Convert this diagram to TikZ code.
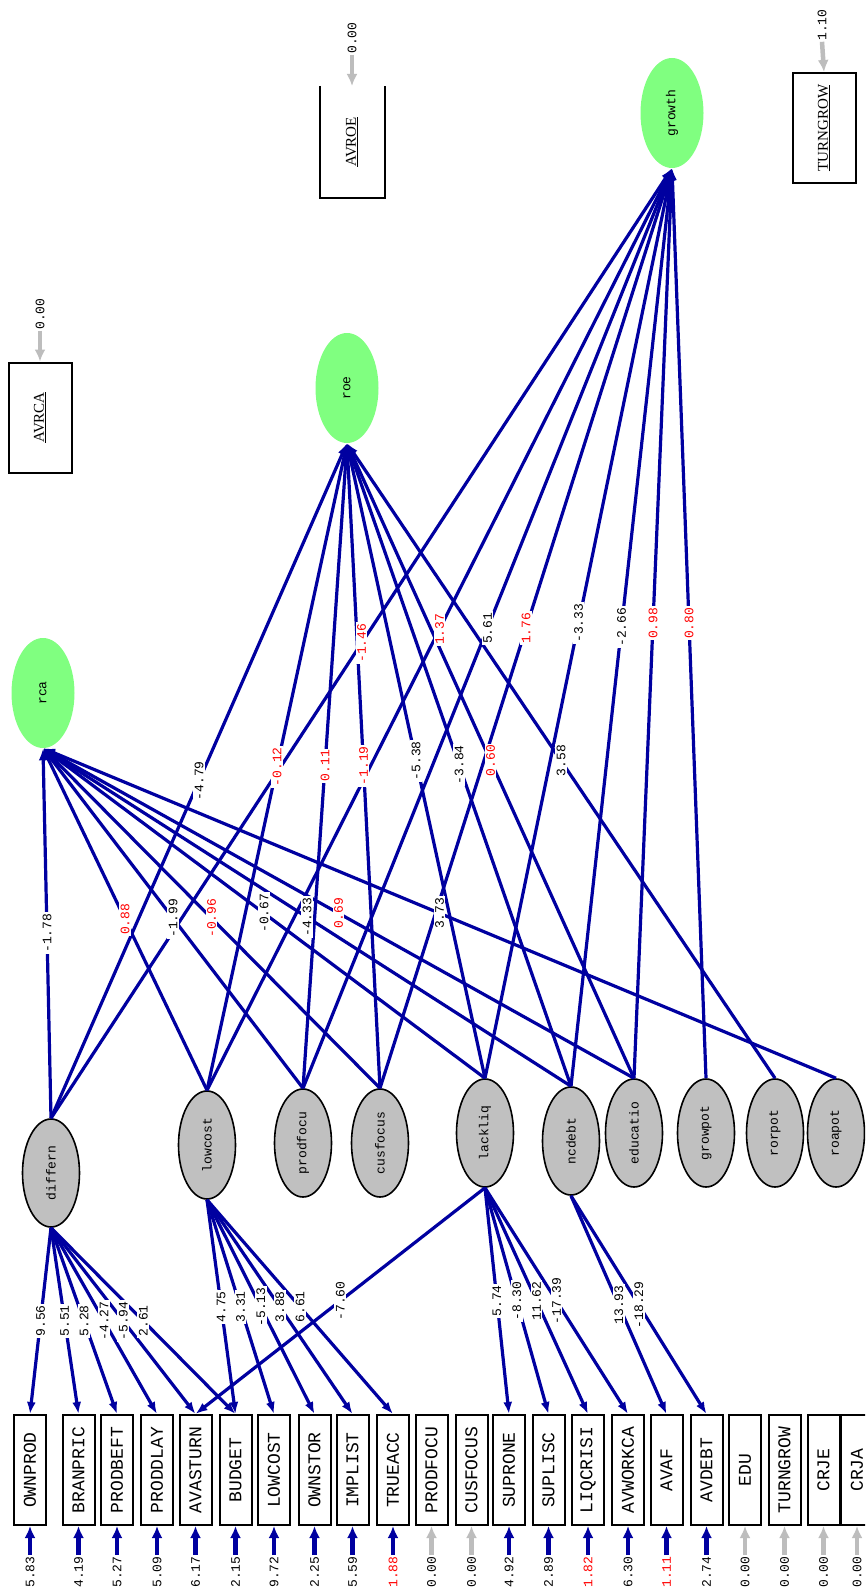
\documentclass[tikz,border=0pt]{standalone}
\usepackage{fontspec}
\newfontfamily\monof{Liberation Mono}
\newfontfamily\seriff{Liberation Serif}
\usetikzlibrary{arrows.meta,shapes.geometric}
\definecolor{lblue}{HTML}{0000A0}
\definecolor{lgreen}{HTML}{80FF80}
\definecolor{lgray}{HTML}{C0C0C0}
\definecolor{agray}{HTML}{BDBDBD}
\newcommand\rl[1]{\rotatebox{90}{#1}}
\begin{document}
\begin{tikzpicture}[x=1pt,y=-1pt,
  obs/.style={draw=black,line width=2pt,fill=white,minimum width=32pt,minimum height=110pt,inner sep=0pt,font=\monof\fontsize{18}{18}\selectfont},
  topbox/.style={line width=2pt,fill=white,minimum width=63pt,minimum height=110pt,inner sep=0pt,font=\seriff\fontsize{15}{15}\selectfont},
  ksi/.style={ellipse,draw=black,line width=1.6pt,fill=lgray,minimum width=57pt,minimum height=108pt,inner sep=0pt,font=\monof\fontsize{13}{13}\selectfont},
  eta/.style={ellipse,fill=lgreen,minimum width=63pt,minimum height=110pt,inner sep=0pt,font=\monof\fontsize{13}{13}\selectfont},
  lab/.style={fill=white,inner sep=1.5pt,font=\monof\fontsize{13}{13}\selectfont},
  elab/.style={inner sep=1pt,font=\monof\fontsize{13}{13}\selectfont},
  sarr/.style={draw=lblue,line width=3.2pt,-{Latex[length=12pt,width=9pt]}},
  earr/.style={line width=4.5pt,-{Latex[length=12pt,width=11pt]}}
]
\clip (0,0) rectangle (865,1592);
\fill[white] (0,0) rectangle (865,1592);

% latent (gray) ellipses
\node[ksi] (differn)  at (51,1173)  {\rl{differn}};
\node[ksi] (lowcost)  at (207,1145) {\rl{lowcost}};
\node[ksi] (prodfocu) at (303,1143) {\rl{prodfocu}};
\node[ksi] (cusfocus) at (380,1143) {\rl{cusfocus}};
\node[ksi] (lackliq)  at (485,1133) {\rl{lackliq}};
\node[ksi] (ncdebt)   at (571,1141) {\rl{ncdebt}};
\node[ksi] (educatio) at (634,1133) {\rl{educatio}};
\node[ksi] (growpot)  at (706,1133) {\rl{growpot}};
\node[ksi] (rorpot)   at (775,1133) {\rl{rorpot}};
\node[ksi] (roapot)   at (836,1133) {\rl{roapot}};

% green ellipses
\node[eta] (rca)    at (43,693)  {\rl{rca}};
\node[eta] (roe)    at (347,388) {\rl{roe}};
\node[eta] (growth) at (672,113) {\rl{growth}};

% top boxes
\node[topbox,draw=black] (avrca) at (40,417.5) {\rl{\underline{AVRCA}}};
\node[topbox] (avroe) at (352,142) {\rl{\underline{AVROE}}};
\draw[line width=2pt] (avroe.north west) -- (avroe.south west) -- (avroe.south east) -- (avroe.north east);
\node[topbox,draw=black] (tgtop) at (824,128) {\rl{\underline{TURNGROW}}};
\node[elab] (lavrca) at (40,314) {\rl{0.00}};
\node[elab] (lavroe) at (352,38) {\rl{0.00}};
\node[elab] (ltgtop) at (822,25) {\rl{1.10}};
\draw[earr,draw=agray] (lavrca.south) -- (avrca.north);
\draw[earr,draw=agray] (lavroe.south) -- (avroe.north);
\draw[earr,draw=agray] (ltgtop.south) -- (tgtop.north);

% observed boxes with error terms
\foreach \n/\x/\t/\e/\c/\ac in {
  b1/30/OWNPROD/5.83/black/lblue,
  b2/78.5/BRANPRIC/4.19/black/lblue,
  b3/117/PRODBEFT/5.27/black/lblue,
  b4/157/PRODDLAY/5.09/black/lblue,
  b5/195.5/AVASTURN/6.17/black/lblue,
  b6/235.5/BUDGET/2.15/black/lblue,
  b7/274/LOWCOST/9.72/black/lblue,
  b8/314.5/OWNSTOR/2.25/black/lblue,
  b9/352.5/IMPLIST/5.59/black/lblue,
  b10/393/TRUEACC/1.88/red/lblue,
  b11/431.5/PRODFOCU/0.00/black/agray,
  b12/471.5/CUSFOCUS/0.00/black/agray,
  b13/509/SUPRONE/4.92/black/lblue,
  b14/548.5/SUPLISC/2.89/black/lblue,
  b15/588/LIQCRISI/1.82/red/lblue,
  b16/628/AVWORKCA/6.30/black/lblue,
  b17/666.5/AVAF/1.11/red/lblue,
  b18/706.5/AVDEBT/2.74/black/lblue,
  b19/745/EDU/0.00/black/agray,
  b20/784.5/TURNGROW/0.00/black/agray,
  b21/823.5/CRJE/0.00/black/agray,
  b22/857/CRJA/0.00/black/agray}{
  \node[obs] (\n) at (\x,1470) {\rl{\t}};
  \node[elab,text=\c] (e\n) at (\x,1572) {\rl{\e}};
  \draw[earr,draw=\ac] (e\n.north) -- (\n.south);
}

% structural paths: lines first
\def\slist{differn/rca/-1.78/black, lowcost/rca/0.88/red, prodfocu/rca/-1.99/black,
  cusfocus/rca/-0.96/red, lackliq/rca/-0.67/black, ncdebt/rca/-4.33/black,
  educatio/rca/0.69/red, roapot/rca/3.73/black,
  differn/roe/-4.79/black, lowcost/roe/-0.12/red, prodfocu/roe/0.11/red,
  cusfocus/roe/-1.19/red, lackliq/roe/-5.38/black, ncdebt/roe/-3.84/black,
  educatio/roe/0.60/red, rorpot/roe/3.58/black,
  differn/growth/-1.46/red, lowcost/growth/1.37/red, prodfocu/growth/5.61/black,
  cusfocus/growth/1.76/red, lackliq/growth/-3.33/black, ncdebt/growth/-2.66/black,
  educatio/growth/0.98/red, growpot/growth/0.80/red}
\def\mlist{differn/b1/9.56, differn/b2/5.51, differn/b3/5.28, differn/b4/-4.27,
  differn/b5/-5.94, differn/b6/2.61,
  lowcost/b6/4.75, lowcost/b7/3.31, lowcost/b8/-5.13, lowcost/b9/3.88, lowcost/b10/6.61,
  lackliq/b5/-7.60, lackliq/b13/5.74, lackliq/b14/-8.30, lackliq/b15/11.62, lackliq/b16/-17.39,
  ncdebt/b17/13.93, ncdebt/b18/-18.29}

\foreach \s/\t/\l/\c in \slist { \draw[sarr] (\s.north) -- (\t.south); }
\foreach \s/\t/\l in \mlist { \draw[sarr] (\s.south) -- (\t.north); }

% labels on top
\foreach \s/\t/\l/\c in \slist { \path (\s.north) -- node[lab,text=\c,pos=0.5]{\rl{\l}} (\t.south); }
\foreach \s/\t/\l in \mlist { \path (\s.south) -- node[lab,pos=0.5]{\rl{\l}} (\t.north); }
\end{tikzpicture}
\end{document}
